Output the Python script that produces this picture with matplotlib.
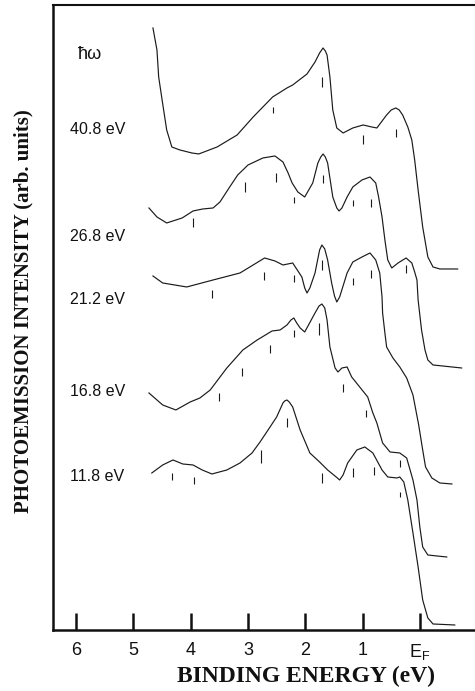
import matplotlib
matplotlib.use("Agg")
import matplotlib.pyplot as plt

plt.rcParams['font.family'] = ['Liberation Sans', 'DejaVu Sans']
plt.rcParams['mathtext.fontset'] = 'custom'
plt.rcParams['mathtext.rm'] = 'Liberation Sans'
plt.rcParams['mathtext.it'] = 'Liberation Sans'

# binding energy (eV) and intensity (arb. units)
e_408 = [4.66, 4.59, 4.56, 4.50, 4.42, 4.33, 4.19, 3.98, 3.86, 3.54, 3.19, 2.91, 2.57,
         2.32, 2.22, 1.97, 1.83, 1.75, 1.69, 1.65, 1.62, 1.57, 1.52, 1.45, 1.34, 1.17,
         0.99, 0.84, 0.75, 0.58, 0.50, 0.42, 0.36, 0.30, 0.21, 0.14, 0.09, 0.03, -0.05,
         -0.14, -0.23, -0.35, -0.66]
i_408 = [602, 580, 553, 530, 500, 483, 480, 477, 476, 483, 495, 513, 533,
         542, 545, 556, 568, 577, 582, 579, 575, 553, 520, 502, 497, 502,
         505, 503, 502, 515, 520, 522, 520, 515, 503, 490, 470, 440, 403,
         373, 363, 361, 361]

e_268 = [4.73, 4.59, 4.42, 4.15, 3.96, 3.79, 3.61, 3.49, 3.32, 3.18, 3.00, 2.74, 2.53,
         2.39, 2.30, 2.23, 2.13, 2.01, 1.87, 1.78, 1.73, 1.69, 1.65, 1.61, 1.52, 1.45,
         1.41, 1.36, 1.27, 1.17, 1.01, 0.87, 0.77, 0.72, 0.66, 0.61, 0.56, 0.49, 0.38,
         0.24, 0.14, 0.09, 0.05, 0.03, -0.03, -0.09, -0.14, -0.23, -0.73]
i_268 = [422, 413, 407, 412, 419, 421, 422, 428, 443, 455, 465, 472, 474,
         468, 457, 447, 438, 433, 447, 467, 473, 476, 473, 467, 433, 422,
         419, 422, 433, 443, 450, 453, 447, 433, 413, 390, 370, 362, 367,
         372, 367, 358, 350, 330, 300, 280, 270, 265, 262]

e_212 = [4.66, 4.49, 4.07, 3.61, 3.14, 2.71, 2.53, 2.39, 2.22, 2.06, 2.01, 1.97, 1.92,
         1.83, 1.75, 1.71, 1.66, 1.61, 1.54, 1.49, 1.45, 1.40, 1.27, 1.17, 1.01, 0.87,
         0.77, 0.70, 0.66, 0.65, 0.61, 0.58, 0.47, 0.35, 0.23, 0.12, 0.07, 0.02, -0.05,
         -0.10, -0.21, -0.35, -0.56]
i_212 = [354, 347, 343, 350, 357, 372, 369, 365, 367, 353, 342, 337, 342,
         357, 380, 385, 381, 370, 347, 334, 328, 333, 357, 368, 373, 377,
         370, 357, 333, 317, 297, 283, 272, 263, 252, 235, 220, 205, 180,
         163, 152, 147, 146]

e_168 = [4.73, 4.49, 4.26, 4.01, 3.84, 3.66, 3.37, 3.09, 2.84, 2.58, 2.44, 2.32, 2.25,
         2.20, 2.15, 2.09, 2.01, 1.83, 1.76, 1.71, 1.66, 1.62, 1.57, 1.48, 1.43, 1.36,
         1.27, 1.19, 1.05, 0.91, 0.82, 0.75, 0.65, 0.52, 0.35, 0.23, 0.12, 0.05, 0.00,
         -0.05, -0.14, -0.30, -0.47]
i_168 = [237, 225, 220, 228, 232, 240, 262, 280, 290, 299, 300, 305, 310,
         312, 307, 302, 298, 317, 324, 326, 322, 310, 283, 262, 258, 262,
         263, 253, 243, 233, 217, 207, 187, 178, 177, 172, 150, 130, 103,
         83, 75, 74, 73]

e_118 = [4.68, 4.49, 4.31, 4.14, 3.96, 3.80, 3.63, 3.37, 3.14, 2.93, 2.79, 2.65, 2.50,
         2.39, 2.36, 2.32, 2.28, 2.22, 2.09, 1.92, 1.75, 1.61, 1.46, 1.40, 1.34, 1.26,
         1.10, 0.96, 0.82, 0.66, 0.56, 0.40, 0.35, 0.28, 0.21, 0.12, 0.03, -0.05, -0.14,
         -0.23, -0.61]
i_118 = [157, 165, 170, 166, 165, 160, 156, 160, 167, 177, 188, 200, 213,
         227, 229, 230, 228, 223, 200, 177, 168, 160, 153, 150, 155, 167,
         180, 183, 177, 160, 153, 152, 153, 148, 130, 97, 63, 30, 12,
         6, 5]

# small vertical markers: energy, top, bottom
m_408 = ([2.57, 1.71, 0.99, 0.42], [523, 553, 495, 501], [517, 543, 486, 493])
m_268 = ([3.96, 3.05, 2.51, 2.20, 1.69, 1.17, 0.86, 0.24],
         [412, 448, 457, 433, 455, 430, 431, 365],
         [403, 438, 448, 427, 447, 424, 423, 357])
m_212 = ([3.63, 2.72, 2.20, 1.71, 1.17, 0.86],
         [340, 358, 355, 370, 352, 360],
         [332, 350, 348, 360, 345, 352])
m_168 = ([3.51, 3.11, 2.62, 2.20, 1.76, 1.34, 0.94, 0.35],
         [237, 262, 285, 300, 307, 246, 220, 170],
         [229, 254, 277, 293, 295, 238, 213, 163])
m_118 = ([4.33, 3.94, 2.77, 2.32, 1.71, 1.17, 0.80, 0.35],
         [157, 153, 180, 212, 157, 162, 163, 138],
         [150, 146, 167, 203, 147, 153, 155, 133])

labels = ['40.8 eV', '26.8 eV', '21.2 eV', '16.8 eV', '11.8 eV']
label_y = [500, 393, 330, 238, 153]
curves = [(e_408, i_408, m_408), (e_268, i_268, m_268), (e_212, i_212, m_212),
          (e_168, i_168, m_168), (e_118, i_118, m_118)]

xtick_pos = [6, 5, 4, 3, 2, 1, 0]
xtick_lab = ['6', '5', '4', '3', '2', '1', r'E$_{\rm F}$']

fig = plt.figure(figsize=(4.75, 6.91), dpi=100)
ax = fig.add_axes([0.1116, 0.0883, 0.888, 0.9045])

for (e, i, m), lab, ly in zip(curves, labels, label_y):
    ax.plot(e, i, color='#1a1a1a', lw=0.85, solid_joinstyle='round')
    ax.vlines(m[0], m[2], m[1], color='#1a1a1a', lw=0.8)
    ax.text(6.11, ly, lab, fontsize=11.5, ha='left', va='center', color='#111')

ax.text(5.97, 575, 'ħω', fontsize=13, ha='left', va='center', color='#111')

ax.set_xlim(6.405, -0.96)
ax.set_ylim(0, 625)
ax.set_yticks([])
ax.set_xticks(xtick_pos)
ax.set_xticklabels(xtick_lab, fontsize=13)
ax.tick_params(axis='x', direction='in', length=12, width=1.8, pad=9, colors='#111')

ax.spines['right'].set_visible(False)
for s in ['left', 'bottom', 'top']:
    ax.spines[s].set_linewidth(1.8)
    ax.spines[s].set_color('#111')
ax.spines['top'].set_linewidth(1.5)

ax.set_xlabel('BINDING ENERGY (eV)', family='Liberation Serif', fontweight='bold',
              fontsize=17, color='#111')
ax.xaxis.set_label_coords(0.60, -0.074)
ax.xaxis.label.set_va('center')
ax.set_ylabel('PHOTOEMISSION INTENSITY (arb. units)', family='Liberation Serif',
              fontweight='bold', fontsize=15, color='#111')
ax.yaxis.set_label_coords(-0.069, 0.51)
ax.yaxis.label.set_va('center')

fig.savefig('out.png', dpi=100)
